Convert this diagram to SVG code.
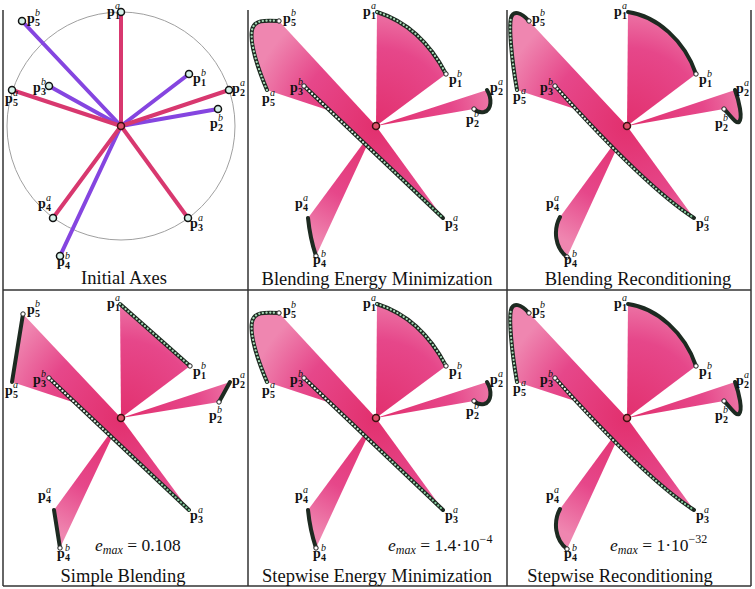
<svg xmlns="http://www.w3.org/2000/svg" width="755" height="589" viewBox="0 0 755 589">
<style>
.frm{stroke:#333;stroke-width:1.5;fill:none}
.ring{fill:none;stroke:#a0a0a0;stroke-width:1}
.la{stroke:#d8386f;stroke-width:4;stroke-linecap:round}
.lb{stroke:#8545e0;stroke-width:4;stroke-linecap:round}
.ep{fill:#d6f2ea;stroke:#111;stroke-width:1.5}
.ctr{fill:#e0506a;stroke:#3a1010;stroke-width:1.5}
.fan{fill:url(#fg);stroke:none}
.crv{fill:none;stroke:#1d2a21;stroke-width:4;stroke-linecap:round}
.dot{fill:none;stroke:#a8dcb8;stroke-width:2.2;stroke-dasharray:0.1 3.6;stroke-linecap:round}
.dot3{fill:none;stroke:url(#dg);stroke-width:2.2;stroke-dasharray:0.1 3.6;stroke-linecap:round}
.eb{fill:#fff;stroke:#222;stroke-width:1}
.p{font-family:"Liberation Serif",serif;font-weight:bold;font-size:14px;fill:#111}
.sp{font-style:italic;font-weight:normal;font-size:10px}
.sb{font-size:10px}
.ttl{font-family:"Liberation Serif",serif;font-size:18.5px;fill:#111;text-anchor:middle}
.em{font-family:"Liberation Serif",serif;font-size:17.5px;fill:#111}
</style>
<defs>
<radialGradient id="fg" gradientUnits="userSpaceOnUse" cx="0" cy="0" r="130">
<stop offset="0" stop-color="#e2306e"/>
<stop offset="0.6" stop-color="#e6478a"/>
<stop offset="1" stop-color="#ef86b0"/>
</radialGradient>
<linearGradient id="dg" x1="0" y1="0" x2="1" y2="0">
<stop offset="0" stop-color="#ffffff"/>
<stop offset="1" stop-color="#7fc99a"/>
</linearGradient>
</defs>

<g id="frame" class="frm">
<line x1="3" y1="10" x2="3" y2="586"/>
<line x1="248" y1="10" x2="248" y2="586"/>
<line x1="507" y1="10" x2="507" y2="586"/>
<line x1="751" y1="10" x2="751" y2="586"/>
<line x1="3" y1="290" x2="751" y2="290"/>
<line x1="3" y1="586" x2="751" y2="586"/>
</g>

<!-- Panel 1: Initial Axes -->
<g id="panel-initial" transform="translate(121,126)">
<circle class="ring" r="114"/>
<line class="lb" x1="0" y1="0" x2="68" y2="-52"/>
<line class="lb" x1="0" y1="0" x2="97" y2="-17"/>
<line class="lb" x1="0" y1="0" x2="-72" y2="-40"/>
<line class="lb" x1="0" y1="0" x2="-61" y2="130"/>
<line class="lb" x1="0" y1="0" x2="-99" y2="-105"/>
<line class="la" x1="0" y1="0" x2="0" y2="-114"/>
<line class="la" x1="0" y1="0" x2="108" y2="-36"/>
<line class="la" x1="0" y1="0" x2="67" y2="92"/>
<line class="la" x1="0" y1="0" x2="-68" y2="92"/>
<line class="la" x1="0" y1="0" x2="-109" y2="-36"/>
<circle class="ep" cx="0" cy="-114" r="3.5"/>
<circle class="ep" cx="108" cy="-36" r="3.5"/>
<circle class="ep" cx="67" cy="92" r="3.5"/>
<circle class="ep" cx="-68" cy="92" r="3.5"/>
<circle class="ep" cx="-109" cy="-36" r="3.5"/>
<circle class="ep" cx="68" cy="-52" r="3.5"/>
<circle class="ep" cx="97" cy="-17" r="3.5"/>
<circle class="ep" cx="-72" cy="-40" r="3.5"/>
<circle class="ep" cx="-61" cy="130" r="3.5"/>
<circle class="ep" cx="-99" cy="-105" r="3.5"/>
<circle class="ctr" r="3.5"/>
<text class="p" x="-14" y="-110">p<tspan class="sp" x="-6" y="-117">a</tspan><tspan class="sb" x="-6" y="-107">1</tspan></text>
<text class="p" x="-94" y="-103">p<tspan class="sp" x="-86" y="-110">b</tspan><tspan class="sb" x="-86" y="-100">5</tspan></text>
<text class="p" x="72" y="-43">p<tspan class="sp" x="80" y="-50">b</tspan><tspan class="sb" x="80" y="-40">1</tspan></text>
<text class="p" x="111" y="-33">p<tspan class="sp" x="119" y="-40">a</tspan><tspan class="sb" x="119" y="-30">2</tspan></text>
<text class="p" x="89" y="2">p<tspan class="sp" x="97" y="-5">b</tspan><tspan class="sb" x="97" y="5">2</tspan></text>
<text class="p" x="-88" y="-34">p<tspan class="sp" x="-80" y="-41">b</tspan><tspan class="sb" x="-80" y="-31">3</tspan></text>
<text class="p" x="-116" y="-23">p<tspan class="sp" x="-108" y="-30">a</tspan><tspan class="sb" x="-108" y="-20">5</tspan></text>
<text class="p" x="-83" y="82">p<tspan class="sp" x="-75" y="75">a</tspan><tspan class="sb" x="-75" y="85">4</tspan></text>
<text class="p" x="69" y="102">p<tspan class="sp" x="77" y="95">a</tspan><tspan class="sb" x="77" y="105">3</tspan></text>
<text class="p" x="-64" y="140">p<tspan class="sp" x="-56" y="133">b</tspan><tspan class="sb" x="-56" y="143">4</tspan></text>
</g>
<text class="ttl" x="124" y="284">Initial Axes</text>

<!-- Panel 2: Blending Energy Minimization -->
<g id="panel-bem" transform="translate(376,126)">
<path class="fan" d="M0,0 L1,-114 Q45,-100 70,-52 Z"/>
<path class="fan" d="M0,0 L111,-36 C116,-28 116,-16 108,-14 Q102,-13 98,-17 Z"/>
<path class="fan" d="M0,0 L-72,-40 L67,92 Z"/>
<path class="fan" d="M0,0 L-68,92 Q-66,112 -60,130 Z"/>
<path class="fan" d="M0,0 L-109,-36 C-120,-62 -126,-85 -124,-96 C-122,-106 -112,-106 -97,-105 Z"/>
<path class="crv" d="M1,-114 Q45,-100 70,-52"/><path class="dot" d="M1,-114 Q45,-100 70,-52"/>
<path class="crv" d="M111,-36 C116,-28 116,-16 108,-14 Q102,-13 98,-17"/>
<path class="crv" d="M-72,-40 L67,92"/><path class="dot3" d="M-72,-40 L67,92"/>
<path class="crv" d="M-68,92 Q-66,112 -60,130"/>
<path class="crv" d="M-109,-36 C-120,-62 -126,-85 -124,-96 C-122,-106 -112,-106 -97,-105"/><path class="dot" d="M-109,-36 C-120,-62 -126,-85 -124,-96 C-122,-106 -112,-106 -97,-105"/>
<circle class="eb" cx="70" cy="-52" r="2.2"/><circle class="eb" cx="98" cy="-17" r="2.2"/><circle class="eb" cx="-72" cy="-40" r="2.2"/><circle class="eb" cx="-60" cy="130" r="2.2"/><circle class="eb" cx="-97" cy="-105" r="2.2"/>
<circle class="ctr" r="3.5"/>
<text class="p" x="-13" y="-110">p<tspan class="sp" x="-5" y="-117">a</tspan><tspan class="sb" x="-5" y="-107">1</tspan></text>
<text class="p" x="-93" y="-103">p<tspan class="sp" x="-85" y="-110">b</tspan><tspan class="sb" x="-85" y="-100">5</tspan></text>
<text class="p" x="73" y="-42">p<tspan class="sp" x="81" y="-49">b</tspan><tspan class="sb" x="81" y="-39">1</tspan></text>
<text class="p" x="114" y="-34">p<tspan class="sp" x="122" y="-41">a</tspan><tspan class="sb" x="122" y="-31">2</tspan></text>
<text class="p" x="90" y="-2">p<tspan class="sp" x="98" y="-9">b</tspan><tspan class="sb" x="98" y="1">2</tspan></text>
<text class="p" x="-86" y="-34">p<tspan class="sp" x="-78" y="-41">b</tspan><tspan class="sb" x="-78" y="-31">3</tspan></text>
<text class="p" x="-114" y="-23">p<tspan class="sp" x="-106" y="-30">a</tspan><tspan class="sb" x="-106" y="-20">5</tspan></text>
<text class="p" x="-81" y="82">p<tspan class="sp" x="-73" y="75">a</tspan><tspan class="sb" x="-73" y="85">4</tspan></text>
<text class="p" x="69" y="102">p<tspan class="sp" x="77" y="95">a</tspan><tspan class="sb" x="77" y="105">3</tspan></text>
<text class="p" x="-63" y="138">p<tspan class="sp" x="-55" y="131">b</tspan><tspan class="sb" x="-55" y="141">4</tspan></text>
</g>
<text class="ttl" x="377" y="285">Blending Energy Minimization</text>

<!-- Panel 3: Blending Reconditioning -->
<g id="panel-brc" transform="translate(627,126)">
<path class="fan" d="M0,0 L1,-114 C30,-110 58,-85 69,-52 Z"/>
<path class="fan" d="M0,0 L108,-36 C112,-25 116,-8 112,-4 C109,-2 104,-10 97,-17 Z"/>
<path class="fan" d="M0,0 L-72,-40 C-45,-10 20,62 67,92 Z"/>
<path class="fan" d="M0,0 L-67,91 C-74,104 -72,122 -60,131 Z"/>
<path class="fan" d="M0,0 L-110,-36 C-116,-70 -118,-100 -116,-108 C-114,-116 -106,-114 -98,-105 Z"/>
<path class="crv" d="M1,-114 C30,-110 58,-85 69,-52"/>
<path class="crv" d="M108,-36 C112,-25 116,-8 112,-4 C109,-2 104,-10 97,-17"/>
<path class="crv" d="M-72,-40 C-45,-10 20,62 67,92"/><path class="dot3" d="M-72,-40 C-45,-10 20,62 67,92"/>
<path class="crv" d="M-67,91 C-74,104 -72,122 -60,131"/>
<path class="crv" d="M-110,-36 C-116,-70 -118,-100 -116,-108 C-114,-116 -106,-114 -98,-105"/><path class="dot" d="M-110,-36 C-116,-70 -118,-100 -116,-108"/>
<circle class="eb" cx="69" cy="-52" r="2.2"/><circle class="eb" cx="97" cy="-17" r="2.2"/><circle class="eb" cx="-72" cy="-40" r="2.2"/><circle class="eb" cx="-60" cy="131" r="2.2"/><circle class="eb" cx="-98" cy="-105" r="2.2"/>
<circle class="ctr" r="3.5"/>
<text class="p" x="-13" y="-110">p<tspan class="sp" x="-5" y="-117">a</tspan><tspan class="sb" x="-5" y="-107">1</tspan></text>
<text class="p" x="-95" y="-103">p<tspan class="sp" x="-87" y="-110">b</tspan><tspan class="sb" x="-87" y="-100">5</tspan></text>
<text class="p" x="72" y="-42">p<tspan class="sp" x="80" y="-49">b</tspan><tspan class="sb" x="80" y="-39">1</tspan></text>
<text class="p" x="109" y="-33">p<tspan class="sp" x="117" y="-40">a</tspan><tspan class="sb" x="117" y="-30">2</tspan></text>
<text class="p" x="88" y="2">p<tspan class="sp" x="96" y="-5">b</tspan><tspan class="sb" x="96" y="5">2</tspan></text>
<text class="p" x="-87" y="-34">p<tspan class="sp" x="-79" y="-41">b</tspan><tspan class="sb" x="-79" y="-31">3</tspan></text>
<text class="p" x="-114" y="-25">p<tspan class="sp" x="-106" y="-32">a</tspan><tspan class="sb" x="-106" y="-22">5</tspan></text>
<text class="p" x="-81" y="82">p<tspan class="sp" x="-73" y="75">a</tspan><tspan class="sb" x="-73" y="85">4</tspan></text>
<text class="p" x="69" y="102">p<tspan class="sp" x="77" y="95">a</tspan><tspan class="sb" x="77" y="105">3</tspan></text>
<text class="p" x="-63" y="138">p<tspan class="sp" x="-55" y="131">b</tspan><tspan class="sb" x="-55" y="141">4</tspan></text>
</g>
<text class="ttl" x="638" y="285">Blending Reconditioning</text>

<!-- Panel 4: Simple Blending -->
<g id="panel-simple" transform="translate(121,418)">
<path class="fan" d="M0,0 L-1,-114 L69,-52 Z"/>
<path class="fan" d="M0,0 L109,-36 L98,-16 Z"/>
<path class="fan" d="M0,0 L-72,-40 L68,92 Z"/>
<path class="fan" d="M0,0 L-67,92 L-61,130 Z"/>
<path class="fan" d="M0,0 L-109,-36 L-98,-104 Z"/>
<path class="crv" d="M-1,-114 L69,-52"/><path class="dot" d="M-1,-114 L69,-52"/>
<path class="crv" d="M109,-36 L98,-16"/>
<path class="crv" d="M-72,-40 L68,92"/><path class="dot3" d="M-72,-40 L68,92"/>
<path class="crv" d="M-67,92 L-61,130"/>
<path class="crv" d="M-109,-36 L-98,-104"/>
<circle class="eb" cx="69" cy="-52" r="2.2"/><circle class="eb" cx="98" cy="-16" r="2.2"/><circle class="eb" cx="-72" cy="-40" r="2.2"/><circle class="eb" cx="-61" cy="130" r="2.2"/><circle class="eb" cx="-98" cy="-104" r="2.2"/>
<circle class="ctr" r="3.5"/>
<text class="p" x="-14" y="-110">p<tspan class="sp" x="-6" y="-117">a</tspan><tspan class="sb" x="-6" y="-107">1</tspan></text>
<text class="p" x="-94" y="-104">p<tspan class="sp" x="-86" y="-111">b</tspan><tspan class="sb" x="-86" y="-101">5</tspan></text>
<text class="p" x="72" y="-42">p<tspan class="sp" x="80" y="-49">b</tspan><tspan class="sb" x="80" y="-39">1</tspan></text>
<text class="p" x="111" y="-33">p<tspan class="sp" x="119" y="-40">a</tspan><tspan class="sb" x="119" y="-30">2</tspan></text>
<text class="p" x="88" y="2">p<tspan class="sp" x="96" y="-5">b</tspan><tspan class="sb" x="96" y="5">2</tspan></text>
<text class="p" x="-88" y="-34">p<tspan class="sp" x="-80" y="-41">b</tspan><tspan class="sb" x="-80" y="-31">3</tspan></text>
<text class="p" x="-116" y="-23">p<tspan class="sp" x="-108" y="-30">a</tspan><tspan class="sb" x="-108" y="-20">5</tspan></text>
<text class="p" x="-83" y="82">p<tspan class="sp" x="-75" y="75">a</tspan><tspan class="sb" x="-75" y="85">4</tspan></text>
<text class="p" x="69" y="102">p<tspan class="sp" x="77" y="95">a</tspan><tspan class="sb" x="77" y="105">3</tspan></text>
<text class="p" x="-64" y="140">p<tspan class="sp" x="-56" y="133">b</tspan><tspan class="sb" x="-56" y="143">4</tspan></text>
</g>
<text class="em" x="95" y="551"><tspan font-style="italic">e</tspan><tspan font-style="italic" font-size="12" dy="3">max</tspan><tspan dy="-3"> = 0.108</tspan></text>
<text class="ttl" x="123" y="582">Simple Blending</text>

<!-- Panel 5: Stepwise Energy Minimization -->
<g id="panel-sem" transform="translate(376,418)">
<path class="fan" d="M0,0 L1,-114 Q45,-100 70,-52 Z"/>
<path class="fan" d="M0,0 L111,-36 C116,-28 116,-16 108,-14 Q102,-13 98,-17 Z"/>
<path class="fan" d="M0,0 L-72,-40 L67,92 Z"/>
<path class="fan" d="M0,0 L-68,92 Q-66,112 -60,130 Z"/>
<path class="fan" d="M0,0 L-109,-36 C-120,-62 -126,-85 -124,-96 C-122,-106 -112,-106 -97,-105 Z"/>
<path class="crv" d="M1,-114 Q45,-100 70,-52"/><path class="dot" d="M1,-114 Q45,-100 70,-52"/>
<path class="crv" d="M111,-36 C116,-28 116,-16 108,-14 Q102,-13 98,-17"/>
<path class="crv" d="M-72,-40 L67,92"/><path class="dot3" d="M-72,-40 L67,92"/>
<path class="crv" d="M-68,92 Q-66,112 -60,130"/>
<path class="crv" d="M-109,-36 C-120,-62 -126,-85 -124,-96 C-122,-106 -112,-106 -97,-105"/><path class="dot" d="M-109,-36 C-120,-62 -126,-85 -124,-96 C-122,-106 -112,-106 -97,-105"/>
<circle class="eb" cx="70" cy="-52" r="2.2"/><circle class="eb" cx="98" cy="-17" r="2.2"/><circle class="eb" cx="-72" cy="-40" r="2.2"/><circle class="eb" cx="-60" cy="130" r="2.2"/><circle class="eb" cx="-97" cy="-105" r="2.2"/>
<circle class="ctr" r="3.5"/>
<text class="p" x="-13" y="-110">p<tspan class="sp" x="-5" y="-117">a</tspan><tspan class="sb" x="-5" y="-107">1</tspan></text>
<text class="p" x="-93" y="-103">p<tspan class="sp" x="-85" y="-110">b</tspan><tspan class="sb" x="-85" y="-100">5</tspan></text>
<text class="p" x="73" y="-42">p<tspan class="sp" x="81" y="-49">b</tspan><tspan class="sb" x="81" y="-39">1</tspan></text>
<text class="p" x="114" y="-34">p<tspan class="sp" x="122" y="-41">a</tspan><tspan class="sb" x="122" y="-31">2</tspan></text>
<text class="p" x="90" y="-2">p<tspan class="sp" x="98" y="-9">b</tspan><tspan class="sb" x="98" y="1">2</tspan></text>
<text class="p" x="-86" y="-34">p<tspan class="sp" x="-78" y="-41">b</tspan><tspan class="sb" x="-78" y="-31">3</tspan></text>
<text class="p" x="-114" y="-23">p<tspan class="sp" x="-106" y="-30">a</tspan><tspan class="sb" x="-106" y="-20">5</tspan></text>
<text class="p" x="-81" y="82">p<tspan class="sp" x="-73" y="75">a</tspan><tspan class="sb" x="-73" y="85">4</tspan></text>
<text class="p" x="69" y="102">p<tspan class="sp" x="77" y="95">a</tspan><tspan class="sb" x="77" y="105">3</tspan></text>
<text class="p" x="-63" y="140">p<tspan class="sp" x="-55" y="133">b</tspan><tspan class="sb" x="-55" y="143">4</tspan></text>
</g>
<text class="em" x="388" y="551"><tspan font-style="italic">e</tspan><tspan font-style="italic" font-size="12" dy="3">max</tspan><tspan dy="-3"> = 1.4·10</tspan><tspan font-size="12" dy="-8">−4</tspan></text>
<text class="ttl" x="377" y="582">Stepwise Energy Minimization</text>

<!-- Panel 6: Stepwise Reconditioning -->
<g id="panel-src" transform="translate(627,418)">
<path class="fan" d="M0,0 L1,-114 C30,-110 58,-85 69,-52 Z"/>
<path class="fan" d="M0,0 L108,-36 C112,-25 116,-8 112,-4 C109,-2 104,-10 97,-17 Z"/>
<path class="fan" d="M0,0 L-72,-40 C-45,-10 20,62 67,92 Z"/>
<path class="fan" d="M0,0 L-67,91 C-74,104 -72,122 -60,131 Z"/>
<path class="fan" d="M0,0 L-110,-36 C-116,-70 -118,-100 -116,-108 C-114,-116 -106,-114 -98,-105 Z"/>
<path class="crv" d="M1,-114 C30,-110 58,-85 69,-52"/>
<path class="crv" d="M108,-36 C112,-25 116,-8 112,-4 C109,-2 104,-10 97,-17"/>
<path class="crv" d="M-72,-40 C-45,-10 20,62 67,92"/><path class="dot3" d="M-72,-40 C-45,-10 20,62 67,92"/>
<path class="crv" d="M-67,91 C-74,104 -72,122 -60,131"/>
<path class="crv" d="M-110,-36 C-116,-70 -118,-100 -116,-108 C-114,-116 -106,-114 -98,-105"/><path class="dot" d="M-110,-36 C-116,-70 -118,-100 -116,-108"/>
<circle class="eb" cx="69" cy="-52" r="2.2"/><circle class="eb" cx="97" cy="-17" r="2.2"/><circle class="eb" cx="-72" cy="-40" r="2.2"/><circle class="eb" cx="-60" cy="131" r="2.2"/><circle class="eb" cx="-98" cy="-105" r="2.2"/>
<circle class="ctr" r="3.5"/>
<text class="p" x="-13" y="-110">p<tspan class="sp" x="-5" y="-117">a</tspan><tspan class="sb" x="-5" y="-107">1</tspan></text>
<text class="p" x="-95" y="-103">p<tspan class="sp" x="-87" y="-110">b</tspan><tspan class="sb" x="-87" y="-100">5</tspan></text>
<text class="p" x="72" y="-42">p<tspan class="sp" x="80" y="-49">b</tspan><tspan class="sb" x="80" y="-39">1</tspan></text>
<text class="p" x="109" y="-33">p<tspan class="sp" x="117" y="-40">a</tspan><tspan class="sb" x="117" y="-30">2</tspan></text>
<text class="p" x="88" y="2">p<tspan class="sp" x="96" y="-5">b</tspan><tspan class="sb" x="96" y="5">2</tspan></text>
<text class="p" x="-87" y="-34">p<tspan class="sp" x="-79" y="-41">b</tspan><tspan class="sb" x="-79" y="-31">3</tspan></text>
<text class="p" x="-114" y="-25">p<tspan class="sp" x="-106" y="-32">a</tspan><tspan class="sb" x="-106" y="-22">5</tspan></text>
<text class="p" x="-81" y="82">p<tspan class="sp" x="-73" y="75">a</tspan><tspan class="sb" x="-73" y="85">4</tspan></text>
<text class="p" x="69" y="102">p<tspan class="sp" x="77" y="95">a</tspan><tspan class="sb" x="77" y="105">3</tspan></text>
<text class="p" x="-63" y="140">p<tspan class="sp" x="-55" y="133">b</tspan><tspan class="sb" x="-55" y="143">4</tspan></text>
</g>
<text class="em" x="610" y="551"><tspan font-style="italic">e</tspan><tspan font-style="italic" font-size="12" dy="3">max</tspan><tspan dy="-3"> = 1·10</tspan><tspan font-size="12" dy="-8">−32</tspan></text>
<text class="ttl" x="620" y="582">Stepwise Reconditioning</text>
</svg>
